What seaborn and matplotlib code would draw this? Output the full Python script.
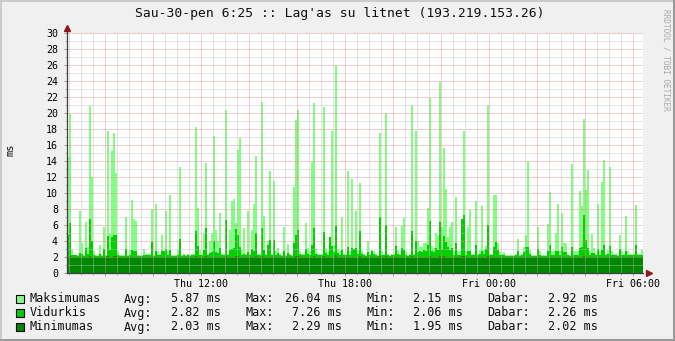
import numpy as np
import pandas as pd
import matplotlib
matplotlib.use("Agg")
import matplotlib.pyplot as plt
import matplotlib.ticker as mticker
from matplotlib.patches import Rectangle
import seaborn as sns

# ---------------- data (5-minute samples, Thu 06:25 -> Fri 06:25) ----------------
start_hour = 6 + 25 / 60.0   # hours since Thu 00:00
step_min = 5

max_ms = [
    14.5, 19.9, 2.9, 2.3, 2.3, 2.2, 7.7, 3.7, 2.2, 6.4, 3.3, 20.9, 12.0, 2.7, 2.2, 2.2, 3.5, 2.2, 5.8, 2.2, 17.7, 5.0, 15.2, 17.5,
    12.5, 2.8, 2.2, 2.2, 2.2, 7.0, 2.2, 2.9, 9.1, 6.7, 6.5, 2.2, 2.2, 2.2, 3.0, 2.4, 2.4, 2.4, 8.0, 2.2, 8.6, 2.8, 2.4, 4.75,
    2.7, 7.7, 2.7, 9.7, 2.2, 2.2, 2.2, 2.9, 13.2, 2.2, 2.4, 2.2, 2.4, 2.2, 2.4, 2.4, 18.3, 8.1, 2.9, 2.4, 5.0, 13.7, 2.4, 4.0,
    5.0, 17.1, 5.4, 4.0, 7.5, 2.4, 2.4, 20.4, 2.4, 5.4, 9.0, 9.2, 6.2, 15.4, 16.9, 2.9, 5.6, 2.4, 7.7, 2.4, 5.4, 8.6, 14.6, 2.4,
    2.4, 21.4, 7.1, 2.4, 4.0, 12.75, 2.4, 11.5, 2.7, 3.1, 2.4, 2.2, 5.7, 2.2, 3.6, 2.4, 2.2, 10.8, 19.1, 20.4, 2.8, 2.4, 2.4, 6.2,
    3.1, 2.7, 13.9, 21.2, 3.0, 2.4, 2.4, 2.4, 20.7, 3.1, 2.7, 3.5, 17.75, 3.5, 26.04, 3.0, 2.7, 7.0, 2.4, 2.4, 12.8, 2.7, 11.8, 2.8,
    7.7, 2.9, 11.25, 2.8, 2.4, 2.2, 4.0, 2.4, 2.9, 2.8, 2.4, 2.2, 17.5, 2.7, 2.4, 20.0, 2.4, 2.2, 2.4, 2.4, 5.8, 2.9, 2.4, 5.9,
    6.9, 2.7, 2.2, 2.4, 21.0, 2.4, 17.7, 4.0, 3.2, 3.2, 3.7, 3.7, 8.1, 21.9, 3.4, 3.1, 5.0, 4.6, 23.9, 5.8, 15.6, 10.5, 4.5, 5.8,
    6.4, 2.7, 9.5, 2.7, 2.7, 6.8, 17.75, 2.7, 5.8, 7.9, 2.4, 2.4, 9.0, 2.4, 2.9, 8.4, 2.9, 3.4, 21.0, 2.4, 2.4, 9.75, 9.75, 3.7,
    2.6, 2.4, 2.6, 2.2, 2.2, 2.2, 2.2, 2.2, 2.4, 4.3, 2.2, 2.4, 3.3, 4.75, 14.0, 2.9, 2.2, 2.2, 2.2, 5.7, 2.7, 2.2, 2.2, 2.2,
    6.1, 10.1, 2.7, 2.7, 5.0, 8.6, 2.7, 7.5, 3.7, 3.7, 2.4, 2.2, 13.6, 2.7, 2.7, 2.7, 10.25, 8.4, 19.25, 10.4, 12.9, 2.7, 4.9, 3.1,
    2.4, 8.6, 2.7, 11.4, 14.1, 2.4, 2.9, 13.3, 2.7, 2.4, 2.4, 2.2, 4.75, 2.7, 2.4, 7.1, 2.7, 2.4, 2.4, 2.4, 8.5, 2.4, 2.4, 2.92,
]

avg_ms = [
    4.75, 6.3, 2.3, 2.2, 2.2, 2.15, 2.5, 2.4, 2.15, 3.1, 2.4, 6.8, 4.0, 2.3, 2.15, 2.15, 2.4, 2.15, 3.0, 2.15, 4.6, 2.9, 4.5, 4.75,
    4.75, 2.3, 2.15, 2.15, 2.15, 3.0, 2.15, 2.3, 2.9, 2.7, 2.7, 2.15, 2.15, 2.1, 2.3, 2.2, 2.2, 2.2, 3.9, 2.15, 2.8, 2.3, 2.2, 2.7,
    2.75, 3.0, 2.3, 2.9, 2.15, 2.15, 2.15, 2.3, 4.3, 2.15, 2.2, 2.15, 2.2, 2.15, 2.2, 2.2, 5.25, 3.4, 2.3, 2.2, 2.9, 5.6, 2.2, 2.5,
    2.6, 4.0, 2.6, 2.5, 3.1, 2.2, 2.2, 6.6, 2.2, 2.9, 3.0, 3.1, 5.5, 4.75, 3.2, 2.3, 2.4, 2.2, 2.6, 2.2, 3.0, 2.8, 5.0, 2.2,
    2.2, 5.6, 2.9, 2.2, 3.5, 4.1, 2.2, 4.1, 2.3, 2.5, 2.2, 2.15, 2.75, 2.15, 2.5, 2.2, 2.15, 3.7, 4.75, 5.4, 2.4, 2.2, 2.2, 3.0,
    2.4, 2.3, 3.5, 5.6, 2.4, 2.2, 2.2, 2.2, 5.1, 2.5, 2.3, 4.5, 3.4, 2.6, 5.9, 2.5, 2.3, 2.9, 2.2, 2.2, 3.25, 2.3, 3.1, 3.0,
    3.1, 2.4, 5.2, 2.4, 2.2, 2.15, 2.6, 2.2, 2.7, 2.4, 2.2, 2.15, 7.0, 2.3, 2.2, 6.0, 2.2, 2.15, 2.2, 2.2, 3.4, 2.4, 2.2, 3.1,
    2.9, 2.3, 2.15, 2.2, 5.25, 2.2, 4.0, 2.6, 2.75, 2.6, 2.9, 2.8, 3.5, 6.5, 2.7, 2.6, 3.1, 2.9, 6.4, 3.0, 4.6, 3.9, 3.2, 2.9,
    3.1, 2.3, 3.7, 2.3, 2.3, 6.7, 7.26, 2.3, 2.7, 2.7, 2.2, 2.2, 3.5, 2.2, 2.4, 2.75, 2.4, 3.0, 6.0, 2.2, 2.2, 3.3, 3.9, 2.9,
    2.3, 2.2, 2.3, 2.15, 2.15, 2.15, 2.15, 2.15, 2.2, 2.7, 2.15, 2.2, 2.6, 3.3, 3.3, 2.4, 2.15, 2.15, 2.15, 3.0, 2.3, 2.15, 2.15, 2.15,
    2.7, 3.5, 2.3, 2.3, 2.75, 2.75, 2.3, 3.2, 2.6, 2.6, 2.2, 2.15, 3.3, 2.3, 2.3, 2.3, 3.1, 3.3, 7.2, 4.1, 3.1, 2.3, 2.45, 2.5,
    2.2, 3.0, 2.3, 2.9, 3.5, 2.2, 2.4, 3.4, 2.3, 2.2, 2.2, 2.15, 3.0, 2.3, 2.2, 2.7, 2.3, 2.2, 2.2, 2.2, 3.5, 2.2, 2.2, 2.26,
]

min_ms = [
    2.02, 2.09, 2.01, 2.00, 2.01, 2.02, 2.04, 2.02, 2.00, 2.03, 2.02, 2.11, 2.05, 2.01, 2.00, 2.01, 2.02, 2.01, 2.03, 2.00, 2.07, 2.04, 2.06, 2.09,
    2.08, 2.02, 2.00, 2.00, 2.01, 2.03, 2.00, 2.02, 2.04, 2.03, 2.03, 2.00, 2.00, 1.98, 2.01, 2.01, 2.02, 2.01, 2.05, 2.00, 2.03, 2.02, 2.01, 2.03,
    2.02, 2.04, 2.01, 2.03, 2.00, 2.00, 1.99, 2.01, 2.06, 2.00, 2.01, 2.00, 2.01, 2.00, 2.01, 2.01, 2.10, 2.04, 2.01, 2.01, 2.03, 2.08, 2.01, 2.02,
    2.02, 2.05, 2.03, 2.02, 2.04, 2.01, 2.01, 2.12, 2.01, 2.03, 2.04, 2.04, 2.08, 2.07, 2.05, 2.01, 2.02, 2.01, 2.02, 2.00, 2.03, 2.02, 2.07, 2.01,
    2.01, 2.10, 2.03, 2.01, 2.04, 2.06, 2.01, 2.05, 2.01, 2.02, 2.00, 1.99, 2.03, 1.99, 2.02, 2.00, 1.99, 2.04, 2.08, 2.09, 2.02, 2.00, 2.01, 2.03,
    2.02, 2.01, 2.05, 2.11, 2.02, 2.00, 2.01, 2.00, 2.09, 2.02, 2.01, 2.06, 2.04, 2.02, 2.29, 2.02, 2.01, 2.03, 2.00, 2.00, 2.04, 2.01, 2.04, 2.03,
    2.04, 2.01, 2.08, 2.01, 2.00, 1.98, 2.02, 2.00, 2.02, 2.01, 2.00, 1.97, 2.15, 2.01, 2.00, 2.12, 2.00, 1.98, 2.00, 2.00, 2.03, 2.01, 2.00, 2.03,
    2.03, 2.01, 1.98, 2.00, 2.10, 2.00, 2.06, 2.02, 2.02, 2.02, 2.03, 2.03, 2.04, 2.13, 2.02, 2.02, 2.03, 2.03, 2.14, 2.03, 2.07, 2.05, 2.03, 2.03,
    2.03, 2.01, 2.04, 2.01, 2.01, 2.12, 2.18, 2.01, 2.02, 2.02, 2.00, 2.00, 2.04, 2.00, 2.01, 2.02, 2.01, 2.02, 2.11, 2.00, 2.00, 2.04, 2.05, 2.02,
    2.01, 2.00, 2.01, 1.97, 1.96, 1.95, 1.97, 1.98, 2.00, 2.02, 1.98, 2.00, 2.01, 2.03, 2.05, 2.01, 1.98, 1.97, 1.98, 2.02, 2.01, 1.98, 1.99, 1.98,
    2.02, 2.04, 2.01, 2.01, 2.02, 2.03, 2.01, 2.03, 2.02, 2.02, 2.00, 1.99, 2.04, 2.01, 2.01, 2.01, 2.03, 2.03, 2.12, 2.05, 2.04, 2.01, 2.02, 2.02,
    2.00, 2.03, 2.01, 2.03, 2.05, 2.00, 2.01, 2.04, 2.01, 2.00, 2.00, 1.99, 2.03, 2.01, 2.00, 2.02, 2.01, 2.00, 2.00, 2.00, 2.04, 2.01, 2.00, 2.02,
]

x_tick_hours = [12, 18, 24, 30]
x_tick_labels = ["Thu 12:00", "Thu 18:00", "Fri 00:00", "Fri 06:00"]

series_names = ["Maksimumas", "Vidurkis", "Minimumas"]
series_colors = ["#80ff80", "#00d000", "#008800"]
stat_avg = [5.87, 2.82, 2.03]
stat_max = [26.04, 7.26, 2.29]
stat_min = [2.15, 2.06, 1.95]
stat_cur = [2.92, 2.26, 2.02]

title = "Sau-30-pen 6:25 :: Lag'as su litnet (193.219.153.26)"
y_label = "ms"
watermark = "RRDTOOL / TOBI OETIKER"

# ---------------- figure ----------------
W, H = 675, 341
plt.rcParams["font.family"] = ["DejaVu Sans Mono", "DejaVu Sans"]
plt.rcParams["axes.grid"] = False
fig = plt.figure(figsize=(W / 100, H / 100), dpi=100, facecolor="#f0f0f0")

def fx(px):
    return px / W

def fy(py):
    return 1 - py / H

ax = fig.add_axes([fx(67), fy(273), (643 - 67) / W, (273 - 33) / H])
ax.set_facecolor("white")

n = len(max_ms)
bw = step_min / 60.0
t0 = start_hour
t1 = start_hour + n * bw
centers = t0 + (np.arange(n) + 0.5) * bw
df = pd.DataFrame({"t": centers, "max": max_ms, "avg": avg_ms, "min": min_ms})

for col, c in zip(["max", "avg", "min"], series_colors):
    sns.histplot(data=df, x="t", weights=col, binwidth=bw, binrange=(t0, t1),
                 color=c, alpha=1, linewidth=0, edgecolor=c,
                 antialiased=False, ax=ax, zorder=1)

ax.set_xlim(t0, t1)
ax.set_ylim(0, 30)
ax.set_xlabel("")
ax.set_ylabel("")
ax.grid(False)

# ticks
ax.xaxis.set_major_locator(mticker.MultipleLocator(2))
ax.xaxis.set_minor_locator(mticker.MultipleLocator(0.5))
lab_map = dict(zip(x_tick_hours, x_tick_labels))
ax.xaxis.set_major_formatter(mticker.FuncFormatter(
    lambda v, p: lab_map.get(int(round(v)), "") if abs(v - round(v)) < 1e-6 else ""))
ax.yaxis.set_major_locator(mticker.MultipleLocator(2))
ax.yaxis.set_minor_locator(mticker.MultipleLocator(1))
ax.yaxis.set_major_formatter(mticker.FuncFormatter(lambda v, p: "%d" % round(v)))

# dotted grid drawn on top of the bars (rrdtool style)
maj_c = "#dc9090"
min_c = "#c0c0c0"
dot = (0, (1, 1))
xmaj = [v for v in ax.xaxis.get_majorticklocs() if t0 < v <= t1]
xmin = [v for v in ax.xaxis.get_minorticklocs() if t0 < v <= t1]
ymaj = [v for v in ax.yaxis.get_majorticklocs() if 0 < v <= 30]
ymin = [v for v in ax.yaxis.get_minorticklocs() if 0 < v <= 30]
for v in xmin:
    ax.axvline(v, color=min_c, alpha=0.85, linestyle=dot, linewidth=0.72, zorder=2)
for v in ymin:
    ax.axhline(v, color=min_c, alpha=0.85, linestyle=dot, linewidth=0.72, zorder=2)
for v in xmaj:
    ax.axvline(v, color=maj_c, alpha=0.9, linestyle=dot, linewidth=0.72, zorder=2.1)
for v in ymaj:
    ax.axhline(v, color=maj_c, alpha=0.9, linestyle=dot, linewidth=0.72, zorder=2.1)

ax.tick_params(which="major", length=2, width=0.72, color="#c09090",
               labelsize=7.2, pad=2)
ax.tick_params(which="minor", length=1.5, width=0.72, color="#b8b8b8")
ax.tick_params(axis="y", which="major", pad=4.5)
for lbl in ax.get_xticklabels() + ax.get_yticklabels():
    lbl.set_fontfamily("DejaVu Sans Mono")

for s in ["top", "right"]:
    ax.spines[s].set_visible(False)
for s in ["left", "bottom"]:
    ax.spines[s].set_color("#404040")
    ax.spines[s].set_linewidth(0.9)
ax.spines["left"].set_bounds(0, 30.6)
ax.spines["left"].set_zorder(3)
ax.spines["bottom"].set_zorder(3)

# arrows
arrow_col = "#8b1a1a"
ax.plot([0], [1.0 + 5 / 240], marker="^", markersize=5, color=arrow_col,
        transform=ax.transAxes, clip_on=False, zorder=5)
ax.plot([1.0 + 6 / 576], [0], marker=">", markersize=5, color=arrow_col,
        transform=ax.transAxes, clip_on=False, zorder=5)

# title, y-label, watermark
fig.text(fx(340), fy(14), title, ha="center", va="center", fontsize=9.4,
         family="DejaVu Sans Mono", color="#101010")
fig.text(fx(11), fy(150), y_label, ha="center", va="center", rotation=90,
         fontsize=7.5, family="DejaVu Sans Mono", color="#101010")
fig.text(fx(666), fy(60), watermark, ha="center", va="center", rotation=270,
         fontsize=5.6, family="DejaVu Sans Mono", color="#a8a8a8")

# legend
row_y = [299, 313, 327]
for name, c, a, mx, mn, cur, yy in zip(series_names, series_colors, stat_avg,
                                        stat_max, stat_min, stat_cur, row_y):
    fig.add_artist(Rectangle((fx(16), fy(yy + 4)), 8 / W, 8 / H, facecolor=c,
                             edgecolor="black", linewidth=0.8,
                             transform=fig.transFigure))
    kw = dict(va="center", fontsize=8.5, family="DejaVu Sans Mono", color="#101010")
    fig.text(fx(30), fy(yy), name, ha="left", **kw)
    fig.text(fx(124), fy(yy), "Avg:", ha="left", **kw)
    fig.text(fx(221), fy(yy), "%.2f ms" % a, ha="right", **kw)
    fig.text(fx(245), fy(yy), "Max:", ha="left", **kw)
    fig.text(fx(342), fy(yy), "%.2f ms" % mx, ha="right", **kw)
    fig.text(fx(366), fy(yy), "Min:", ha="left", **kw)
    fig.text(fx(463), fy(yy), "%.2f ms" % mn, ha="right", **kw)
    fig.text(fx(487), fy(yy), "Dabar:", ha="left", **kw)
    fig.text(fx(598), fy(yy), "%.2f ms" % cur, ha="right", **kw)

# 3D-ish frame
fig.add_artist(Rectangle((0, 1 - 2 / H), 1, 2 / H, color="#cbcbcb", transform=fig.transFigure, linewidth=0))
fig.add_artist(Rectangle((0, 0), 2 / W, 1, color="#cbcbcb", transform=fig.transFigure, linewidth=0))
fig.add_artist(Rectangle((0, 0), 1, 2 / H, color="#999999", transform=fig.transFigure, linewidth=0))
fig.add_artist(Rectangle((1 - 2 / W, 0), 2 / W, 1, color="#999999", transform=fig.transFigure, linewidth=0))

fig.savefig("out.png", dpi=100, facecolor=fig.get_facecolor())
